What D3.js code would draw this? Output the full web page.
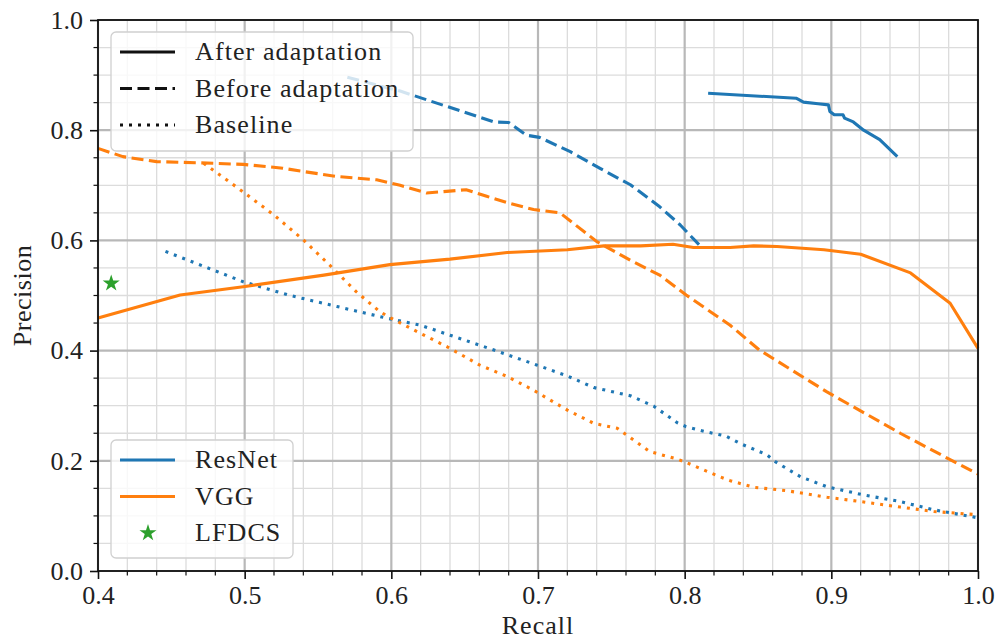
<!DOCTYPE html>
<html>
<head>
<meta charset="utf-8">
<script src="https://cdn.jsdelivr.net/npm/d3@7"></script>
<style>
  body { margin: 0; background: #fff; }
</style>
</head>
<body>
<svg id="chart" width="996" height="641"></svg>
<script>
// Precision / recall curves
var resnetAfterX = [0.816, 0.876, 0.881, 0.891, 0.898, 0.899, 0.902, 0.908, 0.909, 0.915, 0.922, 0.933, 0.945];
var resnetAfterY = [0.867, 0.858, 0.851, 0.848, 0.846, 0.834, 0.828, 0.828, 0.822, 0.815, 0.800, 0.783, 0.752];

var resnetBeforeX = [0.570, 0.606, 0.670, 0.680, 0.692, 0.701, 0.722, 0.742, 0.763, 0.783, 0.797, 0.812];
var resnetBeforeY = [0.896, 0.871, 0.815, 0.814, 0.791, 0.787, 0.761, 0.731, 0.701, 0.661, 0.628, 0.586];

var resnetBaseX = [0.446, 0.499, 0.531, 0.563, 0.595, 0.620, 0.640, 0.670, 0.699, 0.720, 0.738, 0.763, 0.779, 0.795, 0.801, 0.814, 0.828, 0.839, 0.856, 0.862, 0.879, 0.897, 0.922, 0.947, 0.970, 0.999];
var resnetBaseY = [0.580, 0.525, 0.500, 0.480, 0.460, 0.446, 0.428, 0.401, 0.374, 0.354, 0.333, 0.318, 0.299, 0.269, 0.262, 0.253, 0.245, 0.230, 0.211, 0.198, 0.171, 0.153, 0.138, 0.126, 0.111, 0.097];

var vggAfterX = [0.400, 0.456, 0.499, 0.554, 0.599, 0.640, 0.679, 0.720, 0.745, 0.770, 0.792, 0.806, 0.831, 0.847, 0.863, 0.895, 0.920, 0.954, 0.981, 1.000];
var vggAfterY = [0.459, 0.501, 0.516, 0.537, 0.556, 0.566, 0.578, 0.583, 0.590, 0.590, 0.593, 0.587, 0.587, 0.590, 0.589, 0.583, 0.575, 0.541, 0.486, 0.404];

var vggBeforeX = [0.400, 0.417, 0.440, 0.467, 0.499, 0.526, 0.540, 0.563, 0.590, 0.606, 0.624, 0.651, 0.665, 0.681, 0.697, 0.715, 0.740, 0.763, 0.783, 0.801, 0.831, 0.851, 0.897, 0.947, 0.979, 1.000];
var vggBeforeY = [0.767, 0.752, 0.743, 0.741, 0.738, 0.731, 0.725, 0.716, 0.710, 0.700, 0.686, 0.692, 0.680, 0.667, 0.656, 0.650, 0.598, 0.564, 0.537, 0.501, 0.446, 0.401, 0.325, 0.250, 0.205, 0.176];

var vggBaseX = [0.472, 0.499, 0.520, 0.540, 0.558, 0.576, 0.592, 0.599, 0.620, 0.638, 0.660, 0.679, 0.697, 0.720, 0.738, 0.754, 0.765, 0.776, 0.795, 0.801, 0.824, 0.831, 0.847, 0.869, 0.897, 0.920, 0.947, 0.970, 1.000];
var vggBaseY = [0.740, 0.688, 0.646, 0.601, 0.555, 0.507, 0.471, 0.460, 0.431, 0.407, 0.374, 0.353, 0.328, 0.292, 0.268, 0.259, 0.238, 0.217, 0.203, 0.197, 0.171, 0.164, 0.152, 0.146, 0.134, 0.126, 0.116, 0.108, 0.102];

var lfdcsX = [0.409];
var lfdcsY = [0.522];

var xTicks = [0.4, 0.5, 0.6, 0.7, 0.8, 0.9, 1.0];
var yTicks = [0.0, 0.2, 0.4, 0.6, 0.8, 1.0];

var BLUE = '#1f77b4', ORANGE = '#ff7f0e', GREEN = '#2ca02c';
var DASHED = '12,5.5', DOTTED = '3,6';
var FONT = '"Liberation Serif"';
var FONT_SIZE = 26;

var margin = {left: 98, right: 18, top: 20, bottom: 70};
var width = 996, height = 641;

var svg = d3.select('#chart');

var x = d3.scaleLinear().domain([0.4, 1.0]).range([margin.left, width - margin.right]);
var y = d3.scaleLinear().domain([0, 1]).range([height - margin.bottom, margin.top]);

// minor grid
var xMinor = d3.range(0.42, 1.0, 0.02).filter(function(v) { return Math.abs(v * 10 - Math.round(v * 10)) > 0.01; });
var yMinor = d3.range(0.05, 1.0, 0.05).filter(function(v) { return Math.abs(v * 5 - Math.round(v * 5)) > 0.01; });

var grid = svg.append('g');
grid.selectAll('.xminor').data(xMinor).enter().append('line')
	.attr('x1', function(d) { return x(d); }).attr('x2', function(d) { return x(d); })
	.attr('y1', y(0)).attr('y2', y(1))
	.attr('stroke', '#dcdcdc').attr('stroke-width', 1.3);
grid.selectAll('.yminor').data(yMinor).enter().append('line')
	.attr('y1', function(d) { return y(d); }).attr('y2', function(d) { return y(d); })
	.attr('x1', x(0.4)).attr('x2', x(1.0))
	.attr('stroke', '#dcdcdc').attr('stroke-width', 1.3);

// major grid
grid.selectAll('.xmajor').data(xTicks).enter().append('line')
	.attr('x1', function(d) { return x(d); }).attr('x2', function(d) { return x(d); })
	.attr('y1', y(0)).attr('y2', y(1))
	.attr('stroke', '#b8b8b8').attr('stroke-width', 2.2);
grid.selectAll('.ymajor').data(yTicks).enter().append('line')
	.attr('y1', function(d) { return y(d); }).attr('y2', function(d) { return y(d); })
	.attr('x1', x(0.4)).attr('x2', x(1.0))
	.attr('stroke', '#b8b8b8').attr('stroke-width', 2.2);

// curves
var line = d3.line()
	.x(function(d) { return x(d[0]); })
	.y(function(d) { return y(d[1]); });

var plot = svg.append('g');

function drawCurve(xs, ys, color, dash) {
	var pts = d3.zip(xs, ys);
	plot.append('path')
		.datum(pts)
		.attr('d', line)
		.attr('fill', 'none')
		.attr('stroke', color)
		.attr('stroke-width', 3.1)
		.attr('stroke-linejoin', 'round')
		.attr('stroke-dasharray', dash);
}

drawCurve(resnetAfterX, resnetAfterY, BLUE, null);
drawCurve(resnetBeforeX, resnetBeforeY, BLUE, DASHED);
drawCurve(resnetBaseX, resnetBaseY, BLUE, DOTTED);
drawCurve(vggAfterX, vggAfterY, ORANGE, null);
drawCurve(vggBeforeX, vggBeforeY, ORANGE, DASHED);
drawCurve(vggBaseX, vggBaseY, ORANGE, DOTTED);

var star = d3.symbol().type(d3.symbolStar).size(90);
plot.selectAll('.lfdcs').data(d3.zip(lfdcsX, lfdcsY)).enter().append('path')
	.attr('d', star)
	.attr('transform', function(d) { return 'translate(' + x(d[0]) + ',' + y(d[1]) + ')'; })
	.attr('fill', GREEN);

// axes
var xAxis = d3.axisBottom(x).tickValues(xTicks).tickFormat(d3.format('.1f')).tickSize(8).tickPadding(7);
var yAxis = d3.axisLeft(y).tickValues(yTicks).tickFormat(d3.format('.1f')).tickSize(8).tickPadding(7);

var gx = svg.append('g').attr('transform', 'translate(0,' + y(0) + ')').call(xAxis);
var gy = svg.append('g').attr('transform', 'translate(' + x(0.4) + ',0)').call(yAxis);

[gx, gy].forEach(function(g) {
	g.attr('font-family', FONT).attr('font-size', FONT_SIZE);
	g.select('.domain').remove();
	g.selectAll('.tick line').attr('stroke', '#111').attr('stroke-width', 1.6);
	g.selectAll('.tick text').attr('fill', '#222');
});

// minor ticks
svg.append('g').selectAll('line').data(xMinor).enter().append('line')
	.attr('x1', function(d) { return x(d); }).attr('x2', function(d) { return x(d); })
	.attr('y1', y(0)).attr('y2', y(0) + 4.5)
	.attr('stroke', '#111').attr('stroke-width', 1.2);
svg.append('g').selectAll('line').data(yMinor).enter().append('line')
	.attr('y1', function(d) { return y(d); }).attr('y2', function(d) { return y(d); })
	.attr('x1', x(0.4)).attr('x2', x(0.4) - 4.5)
	.attr('stroke', '#111').attr('stroke-width', 1.2);

// frame
svg.append('rect')
	.attr('x', x(0.4)).attr('y', y(1))
	.attr('width', x(1.0) - x(0.4)).attr('height', y(0) - y(1))
	.attr('fill', 'none').attr('stroke', '#111').attr('stroke-width', 1.8);

// axis labels
svg.append('text')
	.attr('x', (x(0.4) + x(1.0)) / 2).attr('y', 634)
	.attr('text-anchor', 'middle')
	.attr('font-family', FONT).attr('font-size', FONT_SIZE).attr('fill', '#222')
	.attr('letter-spacing', 1)
	.text('Recall');
svg.append('text')
	.attr('transform', 'translate(31,' + (y(0) + y(1)) / 2 + ') rotate(-90)')
	.attr('text-anchor', 'middle')
	.attr('font-family', FONT).attr('font-size', FONT_SIZE).attr('fill', '#222')
	.attr('letter-spacing', 0.5)
	.text('Precision');

// legends
function legend(x0, y0, w, h, rows) {
	var g = svg.append('g');
	g.append('rect')
		.attr('x', x0).attr('y', y0).attr('width', w).attr('height', h)
		.attr('rx', 5).attr('ry', 5)
		.attr('fill', 'rgba(255,255,255,0.8)')
		.attr('stroke', '#d0d0d0').attr('stroke-width', 1.3);
	rows.forEach(function(r, i) {
		var cy = y0 + 20 + i * 36.5;
		if (r.marker) {
			g.append('path').attr('d', star)
				.attr('transform', 'translate(' + (x0 + 37) + ',' + cy + ')')
				.attr('fill', r.color);
		} else {
			g.append('line')
				.attr('x1', x0 + 9).attr('x2', x0 + 64)
				.attr('y1', cy).attr('y2', cy)
				.attr('stroke', r.color).attr('stroke-width', 3.1)
				.attr('stroke-dasharray', r.dash);
		}
		g.append('text')
			.attr('x', x0 + 84).attr('y', cy + 8)
			.attr('font-family', FONT).attr('font-size', FONT_SIZE).attr('fill', '#222')
			.attr('letter-spacing', 1.1)
			.text(r.label);
	});
}

legend(111, 32, 302, 119, [
	{label: 'After adaptation', color: '#111', dash: null},
	{label: 'Before adaptation', color: '#111', dash: DASHED},
	{label: 'Baseline', color: '#111', dash: DOTTED}
]);

legend(111, 440, 182, 118, [
	{label: 'ResNet', color: BLUE, dash: null},
	{label: 'VGG', color: ORANGE, dash: null},
	{label: 'LFDCS', color: GREEN, marker: true}
]);
</script>
</body>
</html>
